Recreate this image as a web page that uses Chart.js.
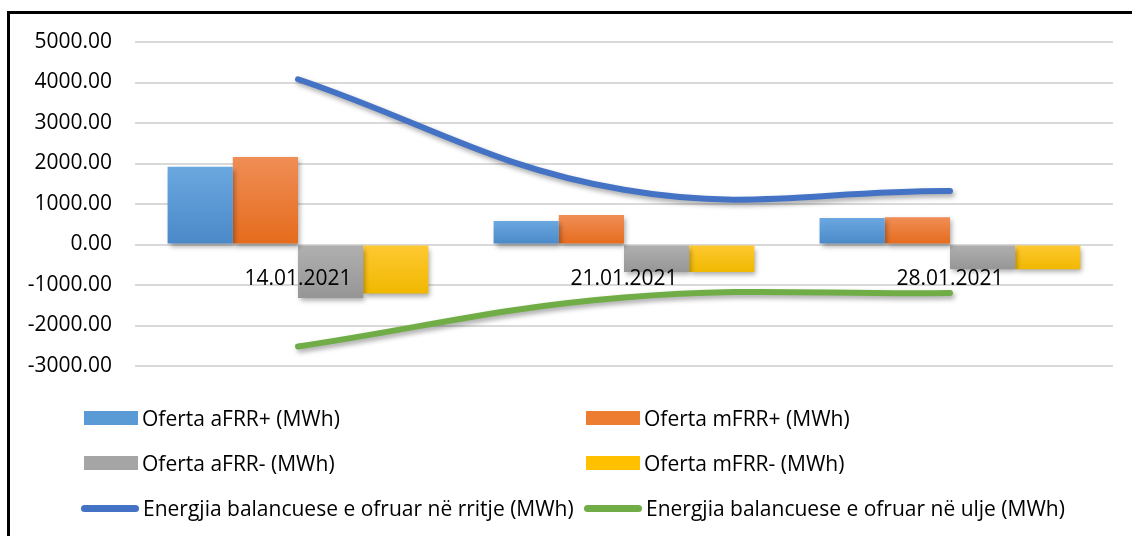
<!DOCTYPE html>
<html>
<head>
<meta charset="utf-8">
<script src="https://cdn.jsdelivr.net/npm/chart.js@4"></script>
<style>
    html, body { margin: 0; padding: 0; background: #fff; }
    #wrap { position: relative; width: 1132px; height: 536px; overflow: hidden; font-family: "Open Sans", sans-serif; }
    #frame { position: absolute; left: 7px; top: 11px; width: 1200px; height: 600px; border-left: 3px solid #000; border-top: 3px solid #000; }
    #chart-box { position: absolute; left: 0; top: 0; width: 1132px; height: 536px; }
    .legend-item { position: absolute; display: flex; align-items: center; font-size: 21px; color: #000; white-space: nowrap; }
    .legend-item .sw { display: inline-block; margin-right: 4px; }
</style>
</head>
<body>
<div id="wrap">
    <div id="frame"></div>
    <div id="chart-box"><canvas id="balance-chart"></canvas></div>
    <div id="legend"></div>
</div>
<script>
const categories = ['14.01.2021', '21.01.2021', '28.01.2021'];
const afrrUp = [1920, 580, 655];
const mfrrUp = [2160, 730, 675];
const afrrDown = [-1320, -680, -610];
const mfrrDown = [-1210, -680, -610];
const energyUp = [4080, 1350, 1320];
const energyDown = [-2520, -1310, -1200];
const yTicks = [5000, 4000, 3000, 2000, 1000, 0, -1000, -2000, -3000];

// soft shadow under bars and lines, like the office chart
const shadowPlugin = {
    id: 'shadow',
    beforeDatasetDraw(chart) {
        const ctx = chart.ctx;
        ctx.save();
        ctx.shadowColor = 'rgba(0, 0, 0, 0.35)';
        ctx.shadowBlur = 5;
        ctx.shadowOffsetX = 2;
        ctx.shadowOffsetY = 3;
    },
    afterDatasetDraw(chart) {
        chart.ctx.restore();
    }
};

/**
 * Light-to-dark vertical fill for each bar.
 */
function barGradient(light, dark) {
    return (context) => {
        const chart = context.chart;
        const yScale = chart.scales.y;
        if (!yScale || context.parsed === undefined) {
            return dark;
        }
        const zero = yScale.getPixelForValue(0);
        const end = yScale.getPixelForValue(context.parsed.y);
        const top = Math.min(zero, end);
        const bottom = Math.max(zero, end);
        if (!isFinite(top) || bottom - top < 1) {
            return dark;
        }
        const g = chart.ctx.createLinearGradient(0, top, 0, bottom);
        g.addColorStop(0, light);
        g.addColorStop(1, dark);
        return g;
    };
}

function barDataset(label, data, color, light, dark) {
    return {
        type: 'bar',
        label: label,
        data: data,
        legendColor: color,
        backgroundColor: barGradient(light, dark),
        borderWidth: 0,
        order: 1
    };
}

function lineDataset(label, data, color) {
    return {
        type: 'line',
        label: label,
        data: data,
        legendColor: color,
        borderColor: color,
        backgroundColor: color,
        borderWidth: 6,
        borderCapStyle: 'round',
        pointRadius: 0,
        tension: 0.4,
        fill: false,
        order: 0
    };
}

const chart = new Chart(document.getElementById('balance-chart').getContext('2d'), {
    type: 'bar',
    data: {
        labels: categories,
        datasets: [
            barDataset('Oferta aFRR+ (MWh)', afrrUp, '#5B9BD5', '#6BA8E0', '#4A88C8'),
            barDataset('Oferta mFRR+ (MWh)', mfrrUp, '#ED7D31', '#F08E56', '#E56B1C'),
            barDataset('Oferta aFRR- (MWh)', afrrDown, '#A5A5A5', '#B0B0B0', '#969696'),
            barDataset('Oferta mFRR- (MWh)', mfrrDown, '#FFC000', '#FFC933', '#F0B800'),
            lineDataset('Energjia balancuese e ofruar në rritje (MWh)', energyUp, '#4472C4'),
            lineDataset('Energjia balancuese e ofruar në ulje (MWh)', energyDown, '#70AD47')
        ]
    },
    options: {
        responsive: true,
        maintainAspectRatio: false,
        animation: false,
        layout: {
            padding: { top: 42, left: 20, right: 19, bottom: 170 }
        },
        datasets: {
            bar: {
                categoryPercentage: 0.8,
                barPercentage: 1.0
            }
        },
        plugins: {
            legend: { display: false },
            tooltip: { enabled: false }
        },
        scales: {
            x: {
                position: { y: 0 },
                z: 1,
                grid: { display: false, drawTicks: false },
                border: { display: false },
                ticks: {
                    z: 1,
                    color: '#000',
                    padding: 22,
                    font: { family: 'Open Sans', size: 21 }
                }
            },
            y: {
                min: -3000,
                max: 5000,
                afterBuildTicks: (scale) => {
                    scale.ticks = yTicks.map(v => ({ value: v }));
                },
                afterFit: (scale) => {
                    scale.width = 115;
                },
                grid: {
                    color: '#d9d9d9',
                    lineWidth: 2,
                    drawTicks: false
                },
                border: { display: false },
                ticks: {
                    color: '#000',
                    padding: 23,
                    font: { family: 'Open Sans', size: 21 },
                    callback: (v) => Number(v).toFixed(2)
                }
            }
        }
    },
    plugins: [shadowPlugin]
});

// legend laid out on a two-column grid like the original
const legendSlots = [
    { x: 84, y: 418 }, { x: 586, y: 418 },
    { x: 84, y: 463 }, { x: 586, y: 463 },
    { x: 81, y: 508 }, { x: 584, y: 508 }
];
const legendBox = document.getElementById('legend');
chart.data.datasets.forEach((ds, i) => {
    const item = document.createElement('div');
    item.className = 'legend-item';
    const sw = document.createElement('span');
    sw.className = 'sw';
    if (ds.type === 'line') {
        sw.style.width = '58px';
        sw.style.height = '7px';
        sw.style.borderRadius = '4px';
        sw.style.background = ds.legendColor;
    } else {
        sw.style.width = '54px';
        sw.style.height = '14px';
        sw.style.background = ds.legendColor;
    }
    item.appendChild(sw);
    item.appendChild(document.createTextNode(ds.label));
    item.style.left = legendSlots[i].x + 'px';
    item.style.top = (legendSlots[i].y - 15) + 'px';
    item.style.height = '30px';
    legendBox.appendChild(item);
});
</script>
</body>
</html>
